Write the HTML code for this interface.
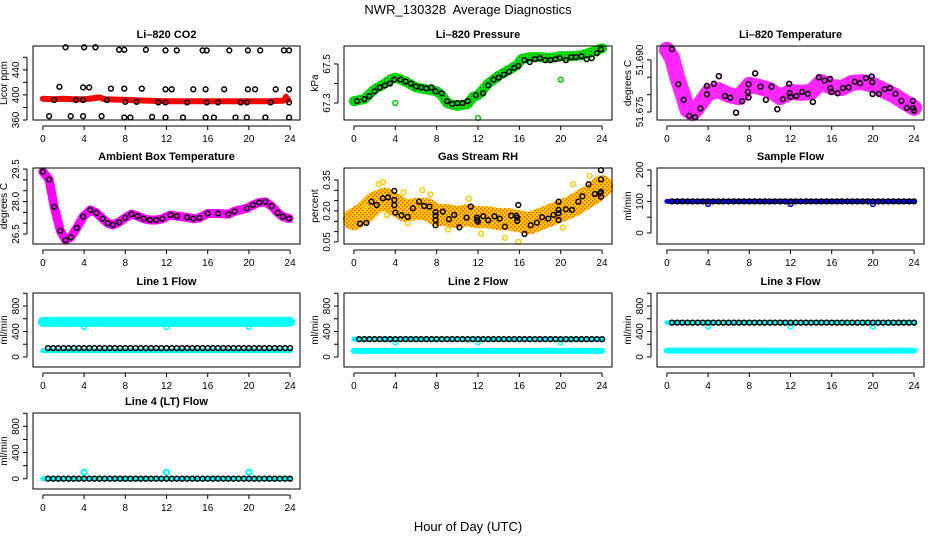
<!DOCTYPE html>
<html><head><meta charset="utf-8"><style>
html,body{margin:0;padding:0;background:#fff}
svg{display:block;font-family:"Liberation Sans",sans-serif}
</style></head><body>
<svg id="c" width="936" height="540" viewBox="0 0 936 540" xmlns="http://www.w3.org/2000/svg">
<defs>
<pattern id="rhpat" width="4" height="4" patternUnits="userSpaceOnUse">
<rect width="4" height="4" fill="#ffd000"/><rect width="1.5" height="1.5" fill="#ff5000"/><rect x="2" y="2" width="1.5" height="1.5" fill="#ff5000"/>
</pattern>
<pattern id="grpat" width="3" height="3" patternUnits="userSpaceOnUse">
<rect width="3" height="3" fill="#00e000"/><rect width="1" height="1" fill="#007000"/>
</pattern>
</defs>
<text x="468" y="14" text-anchor="middle" font-size="13" style="white-space:pre">NWR_130328  Average Diagnostics</text>
<text x="468" y="531" text-anchor="middle" font-size="13">Hour of Day (UTC)</text>
</svg>
<script>
// ---------- data ----------
const co2RedHours = [0,1,2,3,4,5,5.5,6,8,10,12,14,16,18,20,22,23.4,23.6,23.8];
const co2RedVals = [394,393,394,393,393,395,396,393,392,391,390,390,390,390,390,390,391,397,392];
const co2BlkHours = [2.2,4,5.1,7.4,7.9,10,11.9,13,15.5,15.9,18.1,19.9,21.1,23.4,23.9,
 1.6,3.9,4.5,6.6,7.9,9.6,11.9,12.5,14.6,15.8,17.6,19.9,20.6,22.6,23.9,
 1.1,3.2,3.9,6.2,8,9.1,11.2,11.9,14,15.9,17,19.2,19.8,22.1,23.9,
 0.6,2.7,3.9,5.7,7.9,8.5,10.6,11.9,13.6,15.8,16.6,18.7,19.8,21.6,23.9];
const co2BlkVals = [476,476,476,472,472,472,471,471,471,471,471,471,471,471,471,
 413,412,412,410,410,410,409,409,409,409,409,409,409,409,409,
 392,392,392,392,389,389,388,388,388,388,388,388,388,388,388,
 366,366,366,366,364,364,365,364,364,364,364,364,364,364,364];

const presBandHours = [0,1,2,3,3.5,4,5,6,7,8,8.5,9,10,11,11.5,12,13,14,15,15.8,16.2,17,18,19,20,21,22,23,24];
const presBandVals = [67.31,67.32,67.37,67.40,67.42,67.43,67.41,67.38,67.37,67.36,67.34,67.30,67.285,67.295,67.33,67.34,67.40,67.44,67.47,67.495,67.525,67.535,67.535,67.53,67.54,67.54,67.545,67.56,67.58];
const presBlkHours = [0.3,1,1.5,2,2.5,3,3.5,3.9,4.5,5,5.5,6,6.5,7,7.5,7.9,8.5,9,9.5,10,10.5,11,11.8,12.5,13,13.5,14,14.5,15,15.5,15.9,16.5,17,17.5,18,18.5,19,19.5,19.9,20.5,21,21.5,22,22.5,23,23.5,23.9];
const presBlkVals = [67.31,67.32,67.335,67.36,67.38,67.39,67.40,67.42,67.42,67.41,67.40,67.385,67.38,67.375,67.38,67.36,67.35,67.31,67.295,67.30,67.30,67.31,67.34,67.35,67.39,67.42,67.43,67.445,67.46,67.48,67.49,67.52,67.51,67.525,67.53,67.52,67.52,67.525,67.53,67.52,67.535,67.535,67.54,67.525,67.53,67.555,67.575];
const presOutHours = [4,12,20];
const presOutVals = [67.30,67.223,67.42];

const tempBandHours = [0,0.5,1,1.5,2,2.5,3,4,5,6,7,8,9,10,11,12,13,14,15,16,17,18,19,20,21,22,23,24];
const tempBandVals = [51.6929,51.6906,51.685,51.6805,51.6756,51.6747,51.6764,51.6805,51.6813,51.6799,51.6793,51.6828,51.6822,51.6813,51.6793,51.6808,51.6805,51.6808,51.6836,51.6822,51.6819,51.6834,51.6836,51.6828,51.6813,51.6799,51.678,51.6762];
const tempBlkHours = [0.49,1.11,1.63,2.18,2.74,3.26,3.88,3.88,4.56,5.05,5.64,6.16,6.71,7.30,7.85,7.92,7.92,8.57,9.09,9.61,10.16,10.72,11.27,11.86,11.92,11.99,12.57,13.13,13.68,14.17,14.76,15.31,15.83,15.86,15.96,16.58,17.10,17.65,18.24,18.76,19.32,19.87,19.93,19.97,20.59,21.14,21.66,22.18,22.77,23.29,23.88,23.88,24.0];
const tempBlkVals = [51.6931,51.6830,51.6785,51.6739,51.6735,51.6760,51.6801,51.6825,51.6831,51.6853,51.6796,51.6791,51.6748,51.6781,51.6808,51.6792,51.6830,51.6861,51.6823,51.6785,51.6823,51.6758,51.6787,51.6831,51.6804,51.6794,51.6796,51.6808,51.6802,51.6779,51.6850,51.6840,51.6845,51.6818,51.6808,51.6804,51.6819,51.6821,51.6837,51.6833,51.6848,51.6852,51.6836,51.6802,51.6802,51.6816,51.6819,51.6802,51.6782,51.6762,51.6782,51.6761,51.6754];

const ambHours = [0,0.6,1.1,1.7,2.2,2.7,3.3,3.9,4.6,5.2,5.8,6.3,6.8,7.4,8,8.6,9.2,9.8,10.4,11,11.6,12.4,13,14,14.6,15.2,16,17,18,18.6,19.8,20.4,21,21.6,22.2,22.8,23.3,23.9];
const ambVals = [29.38,29.02,27.76,26.65,26.22,26.35,26.79,27.30,27.61,27.48,27.21,27.0,26.92,27.05,27.25,27.42,27.33,27.21,27.15,27.15,27.21,27.38,27.33,27.27,27.21,27.25,27.45,27.45,27.42,27.55,27.69,27.84,27.95,27.99,27.79,27.48,27.30,27.22];

const rhBandHours = [0,1,2,3,4,5,6,7,8,9,10,11,12,13,14,15,16,17,18,19,20,21,22,23,24];
const rhBandVals = [0.16,0.19,0.24,0.26,0.23,0.20,0.21,0.21,0.18,0.18,0.17,0.18,0.17,0.17,0.16,0.16,0.15,0.14,0.16,0.18,0.20,0.22,0.25,0.28,0.32];
const rhBlkHours = [0.6,1.2,1.7,2.2,2.8,3.3,3.9,3.9,3.9,4,4.6,5.2,5.7,6.3,6.8,7.3,7.9,7.9,7.9,7.9,8.6,9.2,9.7,10.2,10.9,11.3,11.9,11.9,12,12.5,13,13.6,14.1,14.6,15.2,15.7,15.8,15.8,15.9,16.5,17.1,17.7,18.2,18.8,19.3,19.8,19.8,19.8,19.8,20.5,21.1,21.7,22.1,22.7,23.3,23.8,23.9,23.9,23.9,23.9];
const rhBlkVals = [0.139,0.142,0.245,0.229,0.261,0.266,0.253,0.297,0.228,0.192,0.179,0.171,0.213,0.245,0.224,0.221,0.194,0.177,0.156,0.131,0.197,0.160,0.181,0.121,0.168,0.221,0.168,0.156,0.148,0.174,0.155,0.174,0.163,0.124,0.177,0.177,0.168,0.152,0.229,0.089,0.131,0.143,0.170,0.163,0.181,0.245,0.205,0.189,0.156,0.208,0.205,0.245,0.271,0.329,0.282,0.286,0.293,0.269,0.353,0.398];
const rhYelHours = [2.8,4.8,6.6,7.4,2.4,11.1,12.3,14.6,15.9,20.2,21.2,22.8,1.0,3.2,5.2,9.1];
const rhYelVals = [0.34,0.29,0.30,0.28,0.33,0.26,0.09,0.07,0.05,0.12,0.33,0.37,0.22,0.18,0.14,0.11];

const flowHours = [0.5,1,1.5,2,2.5,3,3.5,4,4.5,5,5.5,6,6.5,7,7.5,8,8.5,9,9.5,10,10.5,11,11.5,12,12.5,13,13.5,14,14.5,15,15.5,16,16.5,17,17.5,18,18.5,19,19.5,20,20.5,21,21.5,22,22.5,23,23.5,24];
const sampleBlk = [100,100,100,100,100,100,100,100,100,100,100,100,100,100,100,100,100,100,100,100,100,100,100,100,100,100,100,100,100,100,100,100,100,100,100,100,100,100,100,100,100,100,100,100,100,100,100,100];
const line1Blk = [140,140,140,140,140,140,140,140,140,140,140,140,140,140,140,140,140,140,140,140,140,140,140,140,140,140,140,140,140,140,140,140,140,140,140,140,140,140,140,140,140,140,140,140,140,140,140,140];
const line2Blk = [280,280,280,280,280,280,280,280,280,280,280,280,280,280,280,280,280,280,280,280,280,280,280,280,280,280,280,280,280,280,280,280,280,280,280,280,280,280,280,280,280,280,280,280,280,280,280,280];
const line3Blk = [540,540,540,540,540,540,540,540,540,540,540,540,540,540,540,540,540,540,540,540,540,540,540,540,540,540,540,540,540,540,540,540,540,540,540,540,540,540,540,540,540,540,540,540,540,540,540,540];
const line4Blk = [0,0,0,0,0,0,0,0,0,0,0,0,0,0,0,0,0,0,0,0,0,0,0,0,0,0,0,0,0,0,0,0,0,0,0,0,0,0,0,0,0,0,0,0,0,0,0,0];
const bandEnds = [0,24];
const sampleBand = [100,100];
const line1Hi = [550,550];
const line1Lo = [100,100];
const line2Hi = [280,280];
const line2Lo = [95,95];
const line3Hi = [540,540];
const line3Lo = [100,100];
const line4Lo = [0,0];
const dipHours = [4,12,20];
const sampleDips = [92,92,92];
const line1Dips = [470,470,470];
const line2Dips = [230,230,230];
const line3Dips = [480,480,480];
const line4Dips = [100,100,100];

const xTicks = [0,4,8,12,16,20,24];

// ---------- drawing ----------
const svg = document.getElementById('c');
const NS = 'http://www.w3.org/2000/svg';
function el(tag, attrs, parent){
  const e = document.createElementNS(NS, tag);
  for (const k in attrs) e.setAttribute(k, attrs[k]);
  (parent||svg).appendChild(e);
  return e;
}
const cols = [[33,300],[344,612],[657,924]];
const rows = [[46,120],[168,244],[293,367],[413,489]];

function panel(name, col, row, title, ylab, ylim, ticks, labels){
  const g = el('g', {});
  
  
  const [x0,x1] = cols[col], [y0,y1] = rows[row];
  const span = x1 - x0, dx = span/1.08, xa = x0 + (span-dx)/2;
  const sx = h => xa + h/24*dx;
  const sy = v => y1 - (v-ylim[0])/(ylim[1]-ylim[0])*(y1-y0);
  const t = el('text', {x:(x0+x1)/2, y:y0-8, 'text-anchor':'middle', 'font-size':11, 'font-weight':'bold'}, g);
  t.textContent = title;
  
  
  const axg = el('g', {stroke:'#000','stroke-width':1}, g);
  
  
  el('line', {x1:sx(0), x2:sx(24), y1:y1+6, y2:y1+6}, axg);
  xTicks.forEach(h => {
    el('line', {x1:sx(h), x2:sx(h), y1:y1+6, y2:y1+10}, axg);
    const tl = el('text', {x:sx(h), y:y1+22, 'text-anchor':'middle', 'font-size':10, stroke:'none'}, g);
    tl.textContent = h;
    
    
  });
  el('line', {x1:x0-6, x2:x0-6, y1:sy(ticks[0]), y2:sy(ticks[ticks.length-1])}, axg);
  ticks.forEach(v => el('line', {x1:x0-10, x2:x0-6, y1:sy(v), y2:sy(v)}, axg));
  labels.forEach(v => {
    const yy = sy(v), xx = x0-14;
    const tl = el('text', {x:xx, y:yy, 'text-anchor':'middle', 'font-size':10, transform:`rotate(-90 ${xx} ${yy})`}, g);
    tl.textContent = v;
    
    
  });
  const yt = el('text', {x:x0-26, y:(y0+y1)/2, 'text-anchor':'middle', 'font-size':10, transform:`rotate(-90 ${x0-26} ${(y0+y1)/2})`}, g);
  yt.textContent = ylab;
  
  
  const plot = el('g', {}, g);
  const frame = el('rect', {x:x0, y:y0, width:x1-x0, height:y1-y0, fill:'none', stroke:'#000', 'stroke-width':1}, g);
  
  
  return {sx, sy, plot};
}
function band(P, hs, vs, color, w, name, op){
  const d = hs.map((h,i)=>(i?'L':'M')+P.sx(h).toFixed(1)+' '+P.sy(vs[i]).toFixed(1)).join(' ');
  const p = el('path', {d, fill:'none', stroke:color, 'stroke-width':w, 'stroke-linejoin':'round', 'stroke-linecap':'round', 'stroke-opacity':op||1}, P.plot);
  
  
}
function pts(P, hs, vs, color, name, r, sw){
  const g = el('g', {}, P.plot);
  
  
  hs.forEach((h,i) => {
    const c = el('circle', {cx:P.sx(h).toFixed(1), cy:P.sy(vs[i]).toFixed(1), r:r||2.4, fill:'none', stroke:color, 'stroke-width':sw||1.5}, g);
    
    
  });
}

// CO2
let P = panel('co2', 0, 0, 'Li\u2013820 CO2', 'Licor ppm', [360,478], [360,380,400,420,440,460], [360,400,440]);
band(P, co2RedHours, co2RedVals, '#ff0000', 6, 'co2-red-series');
pts(P, co2BlkHours, co2BlkVals, '#000', 'co2-black-series');

// Pressure
P = panel('pressure', 1, 0, 'Li\u2013820 Pressure', 'kPa', [67.213,67.592], [67.3,67.4,67.5], [67.3,67.5]);
band(P, presBandHours, presBandVals, 'url(#grpat)', 10, 'pressure-green-series');
pts(P, presOutHours, presOutVals, '#00cc00', 'pressure-green-outliers');
pts(P, presBlkHours, presBlkVals, '#000', 'pressure-black-series');

// Temp
P = panel('li820-temp', 2, 0, 'Li\u2013820 Temperature', 'degrees C', [51.6727,51.6940], [51.675,51.680,51.685,51.690], [51.675,'51.690']);
band(P, tempBandHours, tempBandVals, '#ff00ff', 16, 'temp-magenta-series', 0.85);
pts(P, tempBlkHours, tempBlkVals, '#ff00ff', 'temp-magenta-scatter', 2.6, 1.5);
pts(P, tempBlkHours, tempBlkVals, '#000', 'temp-black-series');

// Ambient
P = panel('ambient-temp', 0, 1, 'Ambient Box Temperature', 'degrees C', [26.04,29.55], [26.5,27.0,27.5,28.0,28.5,29.0,29.5], ['26.5','28.0','29.5']);
band(P, ambHours, ambVals, '#ff00ff', 9, 'ambient-magenta-series');
pts(P, ambHours, ambVals, '#000', 'ambient-black-series');

// RH
P = panel('gas-rh', 1, 1, 'Gas Stream RH', 'percent', [0.040,0.408], [0.05,0.10,0.15,0.20,0.25,0.30,0.35], ['0.05','0.20','0.35']);
band(P, rhBandHours, rhBandVals, 'url(#rhpat)', 22, 'rh-orange-series');
pts(P, rhYelHours, rhYelVals, '#ffcc00', 'rh-yellow-scatter');
pts(P, rhBlkHours, rhBlkVals, '#000', 'rh-black-series');

// Sample flow
P = panel('sample-flow', 2, 1, 'Sample Flow', 'ml/min', [-35,206], [0,50,100,150,200], [0,100,200]);
band(P, bandEnds, sampleBand, '#0000ff', 5, 'sample-blue-series');
pts(P, dipHours, sampleDips, '#0000ff', 'sample-blue-dips');
pts(P, flowHours, sampleBlk, '#000', 'sample-black-series');

const fT = [0,200,400,600,800,1000], fL = [0,400,800], fY = [-157,1004];
// Line 1
P = panel('line1-flow', 0, 2, 'Line 1 Flow', 'ml/min', fY, fT, fL);
band(P, bandEnds, line1Hi, '#00ffff', 10, 'line1-cyan-high');
band(P, bandEnds, line1Lo, '#00ffff', 5, 'line1-cyan-low');
pts(P, dipHours, line1Dips, '#00ffff', 'line1-cyan-dips');
pts(P, flowHours, line1Blk, '#000', 'line1-black-series');
// Line 2
P = panel('line2-flow', 1, 2, 'Line 2 Flow', 'ml/min', fY, fT, fL);
band(P, bandEnds, line2Hi, '#00ffff', 5, 'line2-cyan-high');
band(P, bandEnds, line2Lo, '#00ffff', 6, 'line2-cyan-low');
pts(P, dipHours, line2Dips, '#00ffff', 'line2-cyan-dips');
pts(P, flowHours, line2Blk, '#000', 'line2-black-series');
// Line 3
P = panel('line3-flow', 2, 2, 'Line 3 Flow', 'ml/min', fY, fT, fL);
band(P, bandEnds, line3Hi, '#00ffff', 5, 'line3-cyan-high');
band(P, bandEnds, line3Lo, '#00ffff', 6, 'line3-cyan-low');
pts(P, dipHours, line3Dips, '#00ffff', 'line3-cyan-dips');
pts(P, flowHours, line3Blk, '#000', 'line3-black-series');
// Line 4
P = panel('line4-flow', 0, 3, 'Line 4 (LT) Flow', 'ml/min', fY, fT, fL);
band(P, bandEnds, line4Lo, '#00ffff', 5, 'line4-cyan-series');
pts(P, dipHours, line4Dips, '#00ffff', 'line4-cyan-dips', 2.6, 2);
pts(P, flowHours, line4Blk, '#000', 'line4-black-series');
</script>
</body></html>
